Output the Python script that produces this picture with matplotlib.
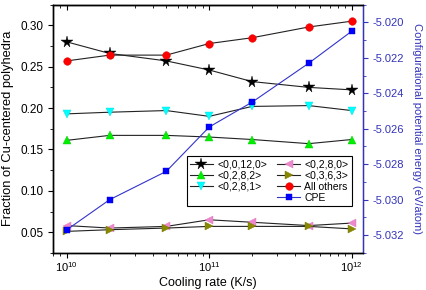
import matplotlib
matplotlib.use("Agg")
import matplotlib.pyplot as plt
from matplotlib.lines import Line2D
from matplotlib.ticker import MultipleLocator, FormatStrFormatter

plt.rcParams['font.family'] = ['Liberation Sans', 'DejaVu Sans']
plt.rcParams['mathtext.default'] = 'regular'
plt.rcParams['font.size'] = 8.5

# cooling rates (K/s)
rate = [1e10, 2e10, 5e10, 1e11, 2e11, 5e11, 1e12]

# fractions of Cu-centered polyhedra
f_00120 = [0.280, 0.266, 0.257, 0.246, 0.232, 0.225, 0.222]
f_0282 = [0.161, 0.167, 0.167, 0.165, 0.162, 0.157, 0.162]
f_0281 = [0.193, 0.195, 0.197, 0.190, 0.202, 0.203, 0.197]
f_0280 = [0.058, 0.055, 0.057, 0.065, 0.062, 0.058, 0.061]
f_0363 = [0.051, 0.053, 0.055, 0.057, 0.057, 0.057, 0.054]
f_other = [0.257, 0.264, 0.264, 0.278, 0.285, 0.298, 0.305]

# configurational potential energy (eV/atom)
cpe = [-5.0317, -5.0300, -5.0284, -5.0259, -5.0245, -5.0223, -5.0205]

fig = plt.figure(figsize=(4.27, 2.90), dpi=100)
ax = fig.add_axes([0.124, 0.128, 0.726, 0.856])
ax2 = ax.twinx()

lc = '#222222'
kw = dict(color=lc, lw=0.8, mew=0.3)
h1, = ax.plot(rate, f_00120, marker='*', ms=8.5, mfc='black', mec='black', **kw)
h2, = ax.plot(rate, f_0282, marker='^', ms=6, mfc='#00ee00', mec='#00cc00', **kw)
h3, = ax.plot(rate, f_0281, marker='v', ms=6, mfc='#00ffff', mec='#00dddd', **kw)
h4, = ax.plot(rate, f_0280, marker='<', ms=6, mfc='#ee88cc', mec='#dd77bb', **kw)
h5, = ax.plot(rate, f_0363, marker='>', ms=6, mfc='#888800', mec='#777700', **kw)
h6, = ax.plot(rate, f_other, marker='o', ms=5.5, mfc='#ff0000', mec='#dd0000', **kw)
h7, = ax2.plot(rate, cpe, marker='s', ms=5, color='#3333cc', lw=0.8,
               mfc='#0000ff', mec='#0000cc', mew=0.3)

ax.set_xscale('log')
ax.set_xlim(8e9, 1.2e12)
ax.set_ylim(0.025, 0.325)
ax.yaxis.set_major_locator(MultipleLocator(0.05))
ax.yaxis.set_minor_locator(MultipleLocator(0.025))
ax.yaxis.set_major_formatter(FormatStrFormatter('%.2f'))
ax.tick_params(which='major', length=3.5, width=0.8, direction='out', labelsize=8.5)
ax.tick_params(which='minor', length=2, width=0.6, direction='out')
ax.tick_params(axis='x', which='major', pad=2, labelsize=8)

top = ax.secondary_xaxis('top')
top.tick_params(which='both', direction='in', labeltop=False)
top.tick_params(which='major', length=3.5, width=0.8)
top.tick_params(which='minor', length=2, width=0.6)

ax2.set_ylim(-5.033, -5.019)
ax2.yaxis.set_major_locator(MultipleLocator(0.002))
ax2.yaxis.set_minor_locator(MultipleLocator(0.001))
ax2.yaxis.set_major_formatter(FormatStrFormatter('%.3f'))
blue = '#3333bb'
ax2.spines['right'].set_color(blue)
ax2.spines['right'].set_linewidth(1.0)
ax2.tick_params(axis='y', which='both', colors=blue, direction='out')
ax2.tick_params(axis='y', which='major', length=3.5, width=0.8, labelsize=8)
ax2.tick_params(axis='y', which='minor', length=2, width=0.6)

for a in (ax, ax2):
    for s in ('left', 'bottom', 'top'):
        a.spines[s].set_linewidth(1.0)

ax.set_xlabel('Cooling rate (K/s)', fontsize=9)
ax.xaxis.set_label_coords(0.5, -0.097)
ax.set_ylabel('Fraction of Cu-centered polyhedra', fontsize=9.3)
ax.yaxis.set_label_coords(-0.125, 0.5)
ax2.set_ylabel('Configurational potential energy (eV/atom)', color=blue,
               rotation=270, fontsize=8, va='center')
ax2.yaxis.set_label_coords(1.175, 0.5)

blank = Line2D([], [], linestyle='none', marker=None)
handles = [h1, h2, h3, blank, h4, h5, h6, h7]
labels = ['<0,0,12,0>', '<0,2,8,2>', '<0,2,8,1>', '', '<0,2,8,0>',
          '<0,3,6,3>', 'All others', 'CPE']
leg = ax2.legend(handles, labels, ncol=2, loc='upper left',
                 bbox_to_anchor=(0.432, 0.39), fontsize=7.5, frameon=True,
                 fancybox=False, edgecolor='black', framealpha=1,
                 handlelength=2.2, handletextpad=0.4, columnspacing=1.0,
                 labelspacing=0.12, borderpad=0.3, borderaxespad=0)
leg.get_frame().set_linewidth(0.8)

fig.savefig('out.png', dpi=100)
